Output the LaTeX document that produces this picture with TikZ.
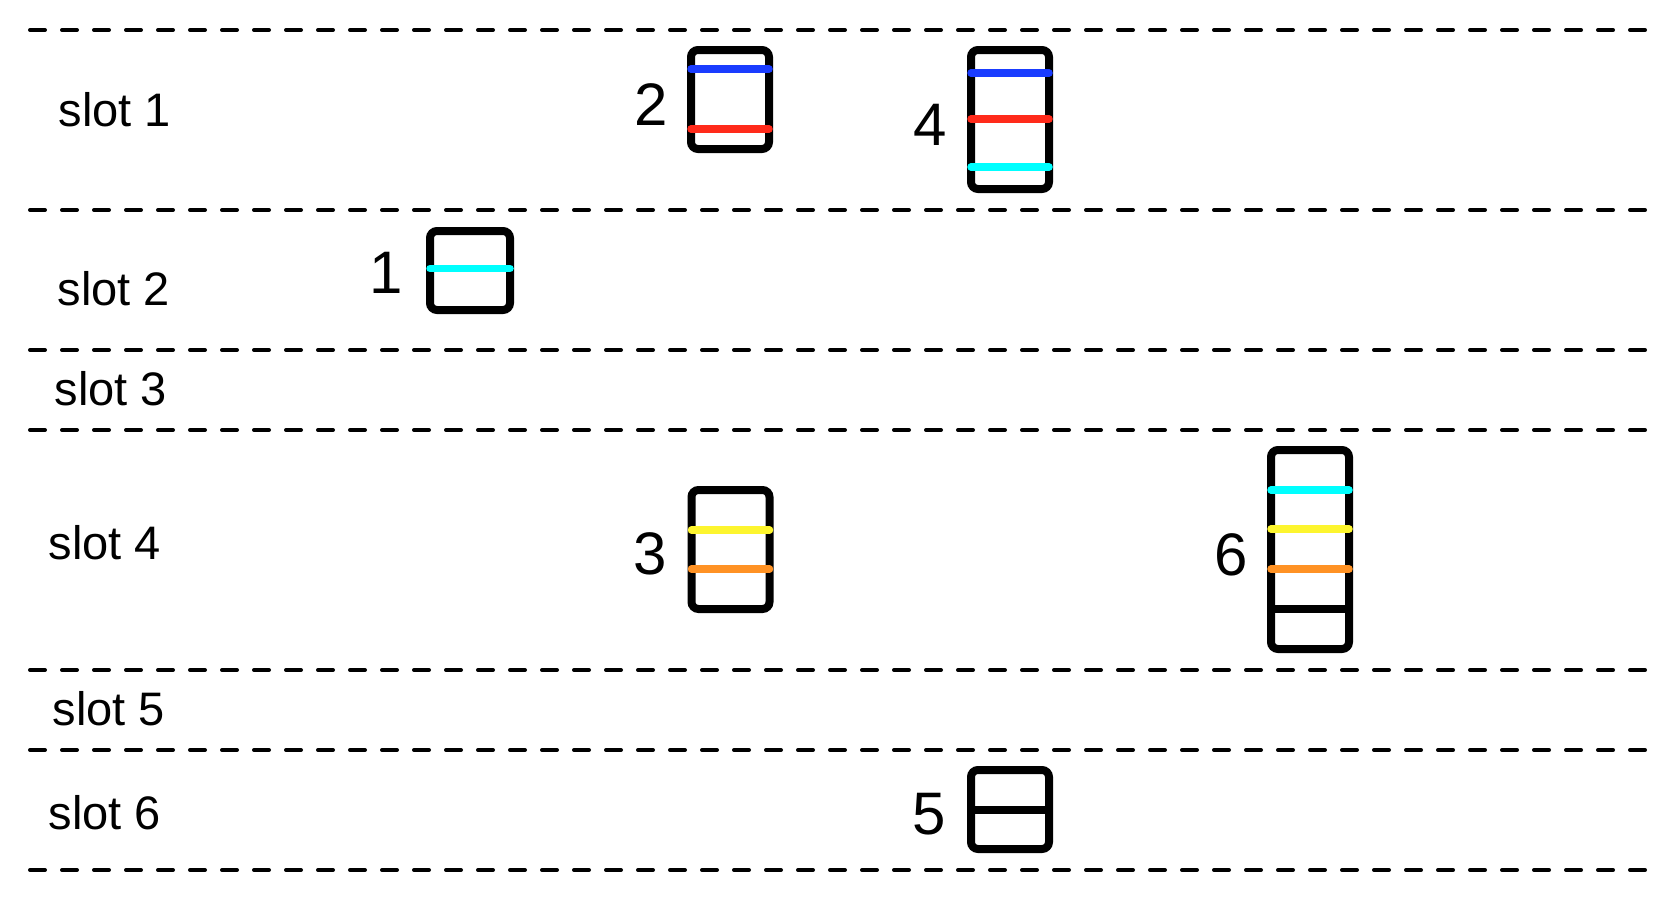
\documentclass[tikz,border=0pt]{standalone}
\usepackage{fontspec}
\setmainfont{Liberation Sans}
\definecolor{sblue}{HTML}{1A3CFF}
\definecolor{sred}{HTML}{FF2A1A}
\definecolor{scyan}{HTML}{00FFFF}
\definecolor{syellow}{HTML}{FDF52E}
\definecolor{sorange}{HTML}{FF9224}
\begin{document}
\begin{tikzpicture}[x=1pt,y=-1pt,
  sep/.style={line width=4pt, dash pattern=on 15pt off 17pt, line cap=round},
  slotlbl/.style={anchor=base west, inner sep=0pt, font=\fontsize{47}{52}\selectfont},
  numlbl/.style={anchor=base east, inner sep=0pt, font=\fontsize{60}{70}\selectfont},
  cell/.style={draw, line width=8pt, rounded corners=7pt, inner sep=0pt, outer sep=0pt, minimum width=78pt},
  band/.style={line width=7.5pt, line cap=round},
  divider/.style={line width=7.5pt}]
\useasboundingbox (0,0) rectangle (1670,910);

% separators
\foreach \yy in {30,210,350,430,670,750,870}
  \draw[sep] (30,\yy) -- (1651,\yy);

% slot labels
\node[slotlbl] (s1) at (58.5,126) {slot 1};
\node[slotlbl] (s2) at (57.5,305) {slot 2};
\node[slotlbl] (s3) at (54.5,405) {slot 3};
\node[slotlbl] (s4) at (48.5,559) {slot 4};
\node[slotlbl] (s5) at (52.5,725) {slot 5};
\node[slotlbl] (s6) at (48.5,829) {slot 6};

% boxes
\node[cell, minimum height=99pt] (b2) at (730,99.5) {};
\node[cell, minimum height=139pt] (b4) at (1010,119.5) {};
\node[cell, minimum height=79pt, minimum width=80pt] (b1) at (470,270.5) {};
\node[cell, minimum height=119pt] (b3) at (730.5,549.5) {};
\node[cell, minimum height=199pt] (b6) at (1310,549.5) {};
\node[cell, minimum height=79pt] (b5) at (1010,809.5) {};

% bands
\draw[band,sblue] (b2.west |- 0,69) -- (b2.east |- 0,69);
\draw[band,sred] (b2.west |- 0,129) -- (b2.east |- 0,129);
\draw[band,sblue] (b4.west |- 0,73) -- (b4.east |- 0,73);
\draw[band,sred] (b4.west |- 0,119) -- (b4.east |- 0,119);
\draw[band,scyan] (b4.west |- 0,167) -- (b4.east |- 0,167);
\draw[band,scyan] (b1.west |- 0,268.5) -- (b1.east |- 0,268.5);
\draw[band,syellow] (b3.west |- 0,530) -- (b3.east |- 0,530);
\draw[band,sorange] (b3.west |- 0,569) -- (b3.east |- 0,569);
\draw[band,scyan] (b6.west |- 0,490) -- (b6.east |- 0,490);
\draw[band,syellow] (b6.west |- 0,529) -- (b6.east |- 0,529);
\draw[band,sorange] (b6.west |- 0,569) -- (b6.east |- 0,569);
\draw[divider] (b6.west |- 0,609) -- (b6.east |- 0,609);
\draw[divider] (b5.west |- 0,810) -- (b5.east |- 0,810);

% numbers
\node[numlbl] (n1) at (403,293) {1};
\node[numlbl] (n2) at (668,125) {2};
\node[numlbl] (n3) at (667,574) {3};
\node[numlbl] (n4) at (947,145) {4};
\node[numlbl] (n5) at (946,834) {5};
\node[numlbl] (n6) at (1248,575) {6};
\end{tikzpicture}
\end{document}
